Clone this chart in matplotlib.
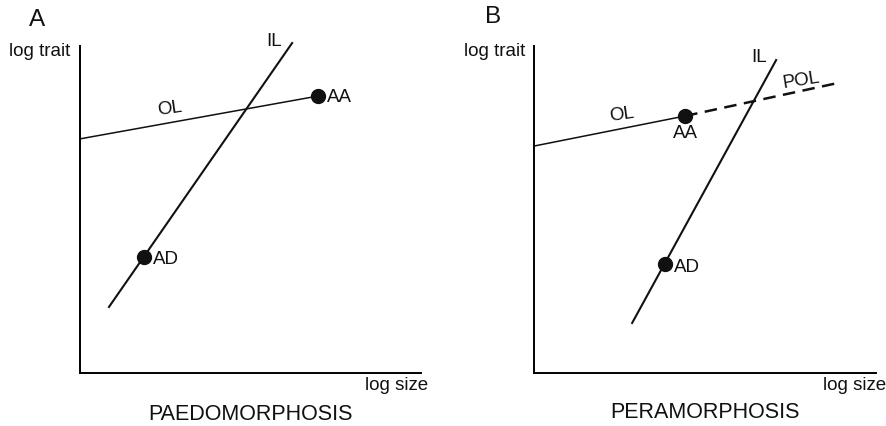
import matplotlib
matplotlib.use("Agg")
import matplotlib.pyplot as plt

plt.rcParams['font.family'] = ['Liberation Sans', 'DejaVu Sans']

W, H = 886, 426

# Panel A (paedomorphosis), schematic coordinates in axis units 0..10
a_ol_x = [0.0, 6.98]
a_ol_y = [7.16, 8.47]
a_il_x = [0.85, 6.22]
a_il_y = [2.02, 10.09]
a_pts_x = [1.88, 6.98]
a_pts_y = [3.55, 8.47]

# Panel B (peramorphosis)
b_ol_x = [0.0, 4.42]
b_ol_y = [6.94, 7.86]
b_pol_x = [4.42, 8.89]
b_pol_y = [7.86, 8.87]
b_il_x = [2.87, 7.08]
b_il_y = [1.53, 9.57]
b_pts_x = [3.83, 4.42]
b_pts_y = [3.33, 7.86]

fig = plt.figure(figsize=(W / 100, H / 100), dpi=100)


def make_ax(x0, x1, ytop, ybot):
    ax = fig.add_axes([x0 / W, 1 - ybot / H, (x1 - x0) / W, (ybot - ytop) / H])
    ax.set_xlim(0, 10)
    ax.set_ylim(0, 10)
    for s in ['top', 'right']:
        ax.spines[s].set_visible(False)
    for s in ['left', 'bottom']:
        ax.spines[s].set_linewidth(1.4)
    ax.set_xticks([])
    ax.set_yticks([])
    ax.patch.set_alpha(0)
    return ax


axA = make_ax(80, 421, 46, 373)
axA.plot(a_ol_x, a_ol_y, color='#111111', lw=1.1, clip_on=False)
axA.plot(a_il_x, a_il_y, color='#111111', lw=1.5, clip_on=False)
axA.plot(a_pts_x, a_pts_y, 'o', color='#111111', ms=10, clip_on=False)

axB = make_ax(534, 876, 46, 373)
axB.plot(b_ol_x, b_ol_y, color='#111111', lw=1.1, clip_on=False)
axB.plot(b_pol_x, b_pol_y, color='#111111', lw=1.8, ls=(0, (5, 3)), clip_on=False)
axB.plot(b_il_x, b_il_y, color='#111111', lw=1.5, clip_on=False)
axB.plot(b_pts_x, b_pts_y, 'o', color='#111111', ms=10, clip_on=False)


def ftext(x, y, s, size=13.5, ha='center', va='center', rot=0):
    fig.text(x / W, 1 - y / H, s, fontsize=size, ha=ha, va=va, rotation=rot, color='#111111')


# Panel A labels
ftext(37, 20, 'A', size=17.5)
ftext(40, 52, 'log trait')
ftext(274, 42, 'IL')
ftext(170, 109, 'OL', rot=8)
ftext(327, 97, 'AA', ha='left')
ftext(153, 260, 'AD', ha='left')
ftext(397, 385, 'log size')
ftext(250, 414, 'PAEDOMORPHOSIS', size=15.5)

# Panel B labels
ftext(493, 17, 'B', size=17.5)
ftext(495, 52, 'log trait')
ftext(759, 58, 'IL')
ftext(801, 81, 'POL', rot=9)
ftext(622, 115, 'OL', rot=8)
ftext(685, 133, 'AA')
ftext(674, 267, 'AD', ha='left')
ftext(855, 385, 'log size')
ftext(705, 413, 'PERAMORPHOSIS', size=15.5)

fig.savefig('out.png', dpi=100)
